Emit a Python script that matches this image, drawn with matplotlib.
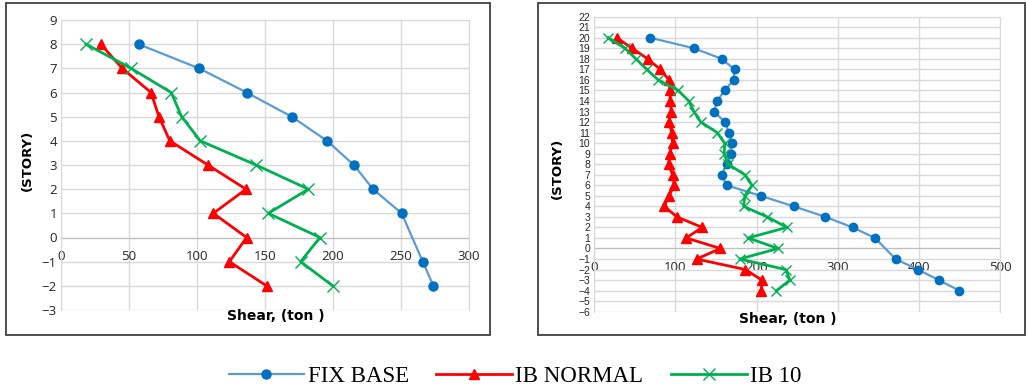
import matplotlib.pyplot as plt

# ---- left chart (9 storeys) ----
fix_story_l = [8, 7, 6, 5, 4, 3, 2, 1, -1, -2]
fix_shear_l = [57, 101.5, 136.5, 169.6, 195.6, 215.4, 229.4, 250.5, 266, 273.8]

ibn_story_l = [8, 7, 6, 5, 4, 3, 2, 1, 0, -1, -2]
ibn_shear_l = [29.2, 45, 66.2, 72, 80, 108, 136, 112, 136.5, 123.8, 151.2]

ib10_story_l = [8, 7, 6, 5, 4, 3, 2, 1, 0, -1, -2]
ib10_shear_l = [18.4, 51.5, 81, 88.7, 102.4, 143.4, 181.9, 152.4, 190.4, 176.2, 199.8]

# ---- right chart (20 storeys) ----
fix_story_r = [20, 19, 18, 17, 16, 15, 14, 13, 12, 11, 10, 9, 8, 7, 6, 5, 4, 3, 2, 1, -1, -2, -3, -4]
fix_shear_r = [69, 123, 157, 172.8, 172, 160.5, 151.4, 147.7, 160.8, 166, 170.3, 168, 163.7,
               156.8, 163, 205, 245.8, 284.8, 318.4, 345.9, 371.3, 398.8, 424.6, 450]

ibn_story_r = [20, 19, 18, 17, 16, 15, 14, 13, 12, 11, 10, 9, 8, 7, 6, 5, 4, 3, 2, 1, 0, -1, -2, -3, -4]
ibn_shear_r = [27.5, 46.8, 65.7, 81.3, 92, 93.2, 93.6, 94.8, 92, 95.6, 96.5, 92.8, 91.6, 96.5,
               98.5, 92, 86.2, 101.8, 133, 113.3, 155.5, 126, 186.3, 206.4, 206]

ib10_story_r = [20, 19, 18, 17, 16, 15, 14, 13, 12, 11, 10, 9, 8, 7, 6, 5, 4, 3, 2, 1, 0, -1, -2, -3, -4]
ib10_shear_r = [17.3, 37.8, 51.3, 64.5, 78.8, 103.4, 116.5, 122.7, 131.3, 151.4, 160.8, 160, 165,
                185.5, 194.5, 185.5, 184, 213, 237.5, 189.5, 226.5, 179.3, 236, 241, 224.5]

labels = ['FIX BASE', 'IB NORMAL', 'IB 10']

fig = plt.figure(figsize=(10.28, 3.92), dpi=100)

# outer frames round each chart
for x0, x1 in [(6, 490), (538, 1025)]:
    fig.patches.append(plt.Rectangle((x0 / 1028, 1 - 335 / 392), (x1 - x0) / 1028, 332 / 392,
                                     transform=fig.transFigure, fill=False,
                                     edgecolor='#404040', linewidth=1.3))

ax1 = fig.add_axes([61 / 1028, 1 - 310 / 392, 408 / 1028, 290 / 392])
ax2 = fig.add_axes([594.3 / 1028, 1 - 311.7 / 392, 405.7 / 1028, 295 / 392])


def draw(ax, fx, fy, nx, ny, gx, gy, ms):
    ax.plot(fx, fy, color='#5b9bd5', lw=1.6, marker='o', ms=ms, mfc='#0070c0', mec='#0070c0',
            label=labels[0], zorder=3)
    ax.plot(nx, ny, color='#ff0000', lw=2, marker='^', ms=ms + 0.5, label=labels[1], zorder=3)
    ax.plot(gx, gy, color='#00b050', lw=2, marker='x', ms=ms + 1.5, mew=1, label=labels[2], zorder=3)
    for s in ax.spines.values():
        s.set_color('#d9d9d9')
    ax.spines['bottom'].set_position(('data', 0))
    ax.spines['bottom'].set_color('#bfbfbf')
    ax.spines['bottom'].set_zorder(2)
    ax.grid(True, color='#d9d9d9', lw=1)
    ax.set_axisbelow(True)
    ax.tick_params(length=0, labelsize=9.5, colors='#262626', pad=3)


draw(ax1, fix_shear_l, fix_story_l, ibn_shear_l, ibn_story_l, ib10_shear_l, ib10_story_l, 6.5)
ax1.set_xlim(0, 300)
ax1.set_ylim(-3, 9)
ax1.set_xticks(range(0, 301, 50))
ax1.set_yticks(range(-3, 10))
ax1.tick_params(axis='x', pad=9)

draw(ax2, fix_shear_r, fix_story_r, ibn_shear_r, ibn_story_r, ib10_shear_r, ib10_story_r, 6)
ax2.set_xlim(0, 500)
ax2.set_ylim(-6, 22)
ax2.set_xticks(range(0, 501, 100))
ax2.set_yticks(range(-6, 23))
ax2.tick_params(axis='x', pad=9)

for ax in (ax1, ax2):
    for t in ax.get_xticklabels() + ax.get_yticklabels():
        t.set_fontfamily('Open Sans')
for t in ax2.get_yticklabels():
    t.set_fontfamily('Liberation Sans')
    t.set_fontsize(7.5)

fig.text(27 / 1028, 1 - 160 / 392, '(STORY)', rotation=90, ha='center', va='center',
         fontsize=9.5, fontweight='bold')
fig.text(557 / 1028, 1 - 168 / 392, '(STORY)', rotation=90, ha='center', va='center',
         fontsize=9.5, fontweight='bold')
fig.text(276 / 1028, 1 - 316 / 392, 'Shear, (ton )', ha='center', va='center',
         fontsize=10, fontweight='bold')
fig.text(788 / 1028, 1 - 319 / 392, 'Shear, (ton )', ha='center', va='center',
         fontsize=10, fontweight='bold')

h, l = ax1.get_legend_handles_labels()
fig.legend(h, l, loc='center', bbox_to_anchor=(515 / 1028, 1 - 376 / 392), ncol=3,
           frameon=False, handlelength=3.3, columnspacing=1.2, handletextpad=0.15,
           prop={'family': 'Liberation Serif', 'size': 16.5})

fig.savefig('out.png', dpi=100)
